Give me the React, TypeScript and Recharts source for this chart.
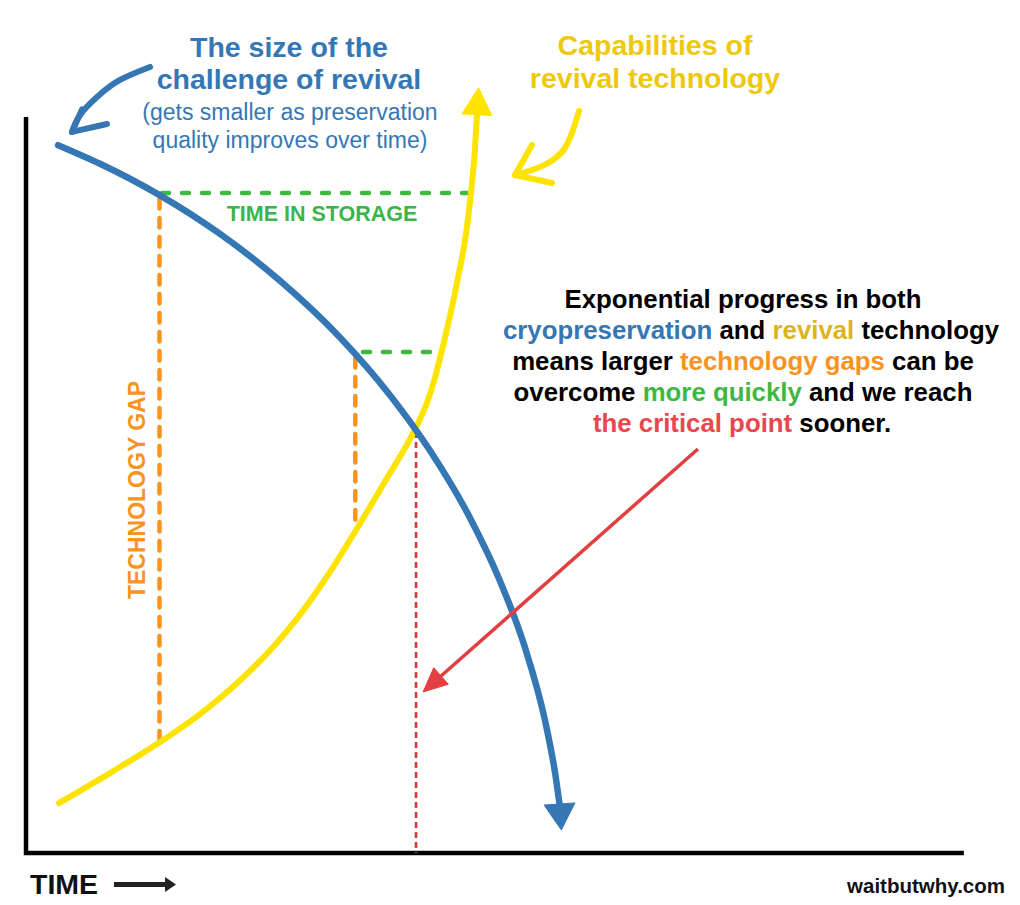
import React from "react";
import { LineChart, Line, XAxis, YAxis } from "recharts";

type Pt = { x: number; y: number };

// x = time (0..100 along the axis), y = level (0..100 up the axis)
const challengeCurve: Pt[] = [
  { x: 3.42, y: 96.3 },
  { x: 7.91, y: 93.77 },
  { x: 14.32, y: 89.47 },
  { x: 20.73, y: 84.22 },
  { x: 27.14, y: 77.86 },
  { x: 33.55, y: 70.14 },
  { x: 38.89, y: 62.29 },
  { x: 43.16, y: 54.76 },
  { x: 47.44, y: 45.59 },
  { x: 50.64, y: 37.02 },
  { x: 53.31, y: 27.95 },
  { x: 55.45, y: 18.04 },
  { x: 56.52, y: 10.95 },
  { x: 57.0, y: 6.67 },
];

const revivalCurve: Pt[] = [
  { x: 3.53, y: 6.8 },
  { x: 8.97, y: 10.88 },
  { x: 14.32, y: 15.1 },
  { x: 18.59, y: 18.91 },
  { x: 22.86, y: 23.48 },
  { x: 26.07, y: 27.56 },
  { x: 28.95, y: 31.9 },
  { x: 32.16, y: 37.62 },
  { x: 35.15, y: 43.71 },
  { x: 38.35, y: 50.53 },
  { x: 41.67, y: 57.92 },
  { x: 42.74, y: 60.91 },
  { x: 43.59, y: 64.18 },
  { x: 44.34, y: 67.89 },
  { x: 45.3, y: 73.03 },
  { x: 46.15, y: 78.26 },
  { x: 47.01, y: 84.24 },
  { x: 47.54, y: 89.82 },
  { x: 47.97, y: 95.81 },
  { x: 48.18, y: 100.44 },
];

const storageLong: Pt[] = [
  { x: 14.53, y: 89.8 },
  { x: 47.2, y: 89.8 },
];
const storageShort: Pt[] = [
  { x: 36.0, y: 68.16 },
  { x: 43.8, y: 68.16 },
];
const gapLong: Pt[] = [
  { x: 14.26, y: 88.98 },
  { x: 14.26, y: 15.37 },
];
const gapShort: Pt[] = [
  { x: 35.18, y: 67.35 },
  { x: 35.18, y: 44.35 },
];
const criticalDrop: Pt[] = [
  { x: 41.67, y: 57.28 },
  { x: 41.67, y: 0 },
];
const criticalPointer: Pt[] = [
  { x: 71.79, y: 54.97 },
  { x: 44.34, y: 24.08 },
];
const axisFrame: Pt[] = [
  { x: 0, y: 100.14 },
  { x: 0, y: 0 },
  { x: 100.2, y: 0 },
];

// hand-drawn pointer arrows next to the titles
const challengeNote: Pt[] = [
  { x: 13.25, y: 106.94 },
  { x: 10.04, y: 105.17 },
  { x: 7.59, y: 102.86 },
  { x: 5.77, y: 100.41 },
  { x: 4.91, y: 98.1 },
];
const challengeNoteHead: Pt[] = [
  { x: 5.98, y: 101.16 },
  { x: 4.91, y: 98.1 },
  { x: 8.65, y: 99.18 },
];
const revivalNote: Pt[] = [
  { x: 59.08, y: 100.95 },
  { x: 58.44, y: 98.37 },
  { x: 57.26, y: 95.37 },
  { x: 54.91, y: 93.33 },
  { x: 52.24, y: 92.24 },
];
const revivalNoteHead: Pt[] = [
  { x: 54.06, y: 96.33 },
  { x: 52.24, y: 92.24 },
  { x: 56.2, y: 91.16 },
];

const W = 1020;
const H = 905;
const X_DOMAIN: [number, number] = [-2.78, 106.2];
const Y_DOMAIN: [number, number] = [-7.07, 116.05];
const PX_X = W / (X_DOMAIN[1] - X_DOMAIN[0]);
const PX_Y = H / (Y_DOMAIN[1] - Y_DOMAIN[0]);

const BLUE = "#3577B4";
const YELLOW = "#FFE300";
const GREEN = "#3DB93D";
const ORANGE = "#F7931E";
const RED = "#E33E40";

const FONT = "'Liberation Sans', Arial, Helvetica, sans-serif";

// filled triangle on the last point, pointing along the last segment
// (or along `dir`, a screen direction, when given)
function arrowHead(
  data: Pt[],
  color: string,
  len: number,
  half: number,
  dir?: [number, number]
) {
  const last = data.length - 1;
  return (p: any) => {
    if (p.index !== last) return <g key={`n-${p.index}`} />;
    const prev = data[last - 1];
    const cur = data[last];
    let dx = dir ? dir[0] : (cur.x - prev.x) * PX_X;
    let dy = dir ? dir[1] : -(cur.y - prev.y) * PX_Y;
    const n = Math.hypot(dx, dy) || 1;
    dx /= n;
    dy /= n;
    const pts = [
      [p.cx + dx * len, p.cy + dy * len],
      [p.cx - dy * half, p.cy + dx * half],
      [p.cx + dy * half, p.cy - dx * half],
    ]
      .map((q) => q.join(","))
      .join(" ");
    return (
      <polygon
        key={`a-${p.index}`}
        points={pts}
        fill={color}
        stroke={color}
        strokeWidth={1}
        strokeLinejoin="round"
      />
    );
  };
}

export default function App() {
  return (
    <div
      style={{
        position: "absolute",
        left: 0,
        top: 0,
        width: W,
        height: H,
        background: "#fff",
      }}
    >
      <LineChart width={W} height={H} margin={{ top: 0, right: 0, bottom: 0, left: 0 }}>
        <XAxis type="number" dataKey="x" domain={X_DOMAIN} hide allowDataOverflow />
        <YAxis type="number" domain={Y_DOMAIN} hide allowDataOverflow />

        <Line
          data={axisFrame}
          dataKey="y"
          type="linear"
          stroke="#000"
          strokeWidth={4.5}
          dot={false}
          activeDot={false}
          isAnimationActive={false}
        />

        {/* dashed guides */}
        <Line
          data={storageLong}
          dataKey="y"
          type="linear"
          stroke={GREEN}
          strokeWidth={4.5}
          strokeDasharray="7 13"
          strokeLinecap="round"
          dot={false}
          activeDot={false}
          isAnimationActive={false}
        />
        <Line
          data={storageShort}
          dataKey="y"
          type="linear"
          stroke={GREEN}
          strokeWidth={4.5}
          strokeDasharray="7 13"
          strokeLinecap="round"
          dot={false}
          activeDot={false}
          isAnimationActive={false}
        />
        <Line
          data={gapLong}
          dataKey="y"
          type="linear"
          stroke={ORANGE}
          strokeWidth={4.5}
          strokeDasharray="9.5 9.5"
          strokeLinecap="round"
          dot={false}
          activeDot={false}
          isAnimationActive={false}
        />
        <Line
          data={gapShort}
          dataKey="y"
          type="linear"
          stroke={ORANGE}
          strokeWidth={4.5}
          strokeDasharray="9.5 9.5"
          strokeLinecap="round"
          dot={false}
          activeDot={false}
          isAnimationActive={false}
        />
        <Line
          data={criticalDrop}
          dataKey="y"
          type="linear"
          stroke="#DD3438"
          strokeWidth={2.6}
          strokeDasharray="6 4"
          dot={false}
          activeDot={false}
          isAnimationActive={false}
        />

        {/* the two curves */}
        <Line
          data={revivalCurve}
          dataKey="y"
          type="monotone"
          stroke={YELLOW}
          strokeWidth={6}
          strokeLinecap="round"
          dot={arrowHead(revivalCurve, YELLOW, 27, 15)}
          activeDot={false}
          isAnimationActive={false}
        />
        <Line
          data={challengeCurve}
          dataKey="y"
          type="monotone"
          stroke={BLUE}
          strokeWidth={6.5}
          strokeLinecap="round"
          dot={arrowHead(challengeCurve, BLUE, 26, 15.5, [0.07, 1])}
          activeDot={false}
          isAnimationActive={false}
        />

        <Line
          data={criticalPointer}
          dataKey="y"
          type="linear"
          stroke={RED}
          strokeWidth={3.5}
          dot={arrowHead(criticalPointer, RED, 24, 11)}
          activeDot={false}
          isAnimationActive={false}
        />

        {/* title pointers */}
        <Line
          data={challengeNote}
          dataKey="y"
          type="natural"
          stroke={BLUE}
          strokeWidth={6}
          strokeLinecap="round"
          dot={false}
          activeDot={false}
          isAnimationActive={false}
        />
        <Line
          data={challengeNoteHead}
          dataKey="y"
          type="linear"
          stroke={BLUE}
          strokeWidth={6}
          strokeLinecap="round"
          strokeLinejoin="round"
          dot={false}
          activeDot={false}
          isAnimationActive={false}
        />
        <Line
          data={revivalNote}
          dataKey="y"
          type="natural"
          stroke={YELLOW}
          strokeWidth={6}
          strokeLinecap="round"
          dot={false}
          activeDot={false}
          isAnimationActive={false}
        />
        <Line
          data={revivalNoteHead}
          dataKey="y"
          type="linear"
          stroke={YELLOW}
          strokeWidth={6}
          strokeLinecap="round"
          strokeLinejoin="round"
          dot={false}
          activeDot={false}
          isAnimationActive={false}
        />
      </LineChart>

      <svg
        width={W}
        height={H}
        style={{ position: "absolute", left: 0, top: 0, pointerEvents: "none" }}
        fontFamily={FONT}
      >
        <g fill={BLUE} textAnchor="middle">
          <text x={289} y={57} fontSize={28.5} fontWeight="bold">
            The size of the
          </text>
          <text x={289} y={89} fontSize={28.5} fontWeight="bold">
            challenge of revival
          </text>
          <text x={290} y={120} fontSize={23}>
            (gets smaller as preservation
          </text>
          <text x={290} y={148} fontSize={23}>
            quality improves over time)
          </text>
        </g>
        <g fill="#EEC80C" textAnchor="middle" fontSize={28.5} fontWeight="bold">
          <text x={655} y={55}>Capabilities of</text>
          <text x={655} y={88}>revival technology</text>
        </g>

        <text x={322} y={221} textAnchor="middle" fontSize={21.5} fontWeight="bold" fill="#39B54A">
          TIME IN STORAGE
        </text>
        <text
          transform="translate(145,490) rotate(-90)"
          textAnchor="middle"
          fontSize={23}
          fontWeight="bold"
          fill={ORANGE}
        >
          TECHNOLOGY GAP
        </text>

        <g textAnchor="middle" fontSize={25.8} fontWeight="bold" fill="#000">
          <text x={743} y={308}>Exponential progress in both</text>
          <text x={751} y={339}>
            <tspan fill={BLUE}>cryopreservation</tspan> and{" "}
            <tspan fill="#DDB41C">revival</tspan> technology
          </text>
          <text x={743} y={370}>
            means larger <tspan fill={ORANGE}>technology gaps</tspan> can be
          </text>
          <text x={743} y={401}>
            overcome <tspan fill="#3CB843">more quickly</tspan> and we reach
          </text>
          <text x={742} y={432}>
            <tspan fill="#E8474F">the critical point</tspan> sooner.
          </text>
        </g>

        <text x={30} y={894} fontSize={28.5} fontWeight="bold" fill="#111">
          TIME
        </text>
        <line x1={114} y1={884.5} x2={167} y2={884.5} stroke="#222" strokeWidth={5} />
        <polygon points="165,877 176,884.5 165,892" fill="#222" />

        <text x={1005} y={893} textAnchor="end" fontSize={20.5} fontWeight="bold" fill="#111">
          waitbutwhy.com
        </text>
      </svg>
    </div>
  );
}
